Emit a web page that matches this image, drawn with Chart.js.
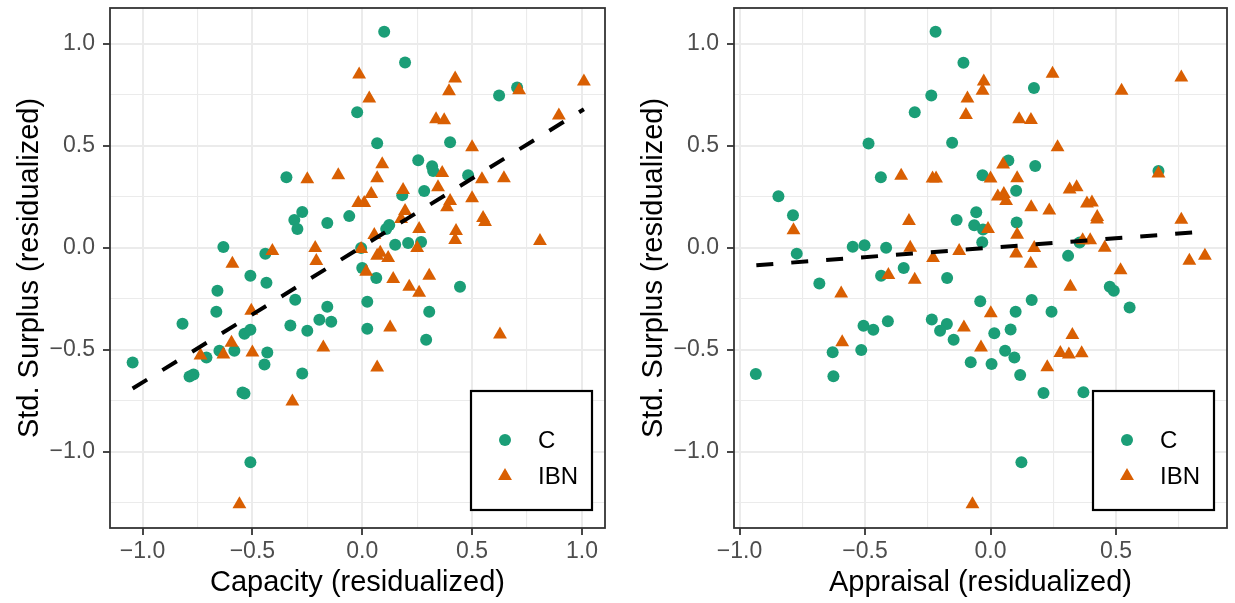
<!DOCTYPE html>
<html>
<head>
<meta charset="utf-8">
<script src="https://cdn.jsdelivr.net/npm/chart.js@4.4.1/dist/chart.umd.min.js"></script>
<style>
  html, body { margin: 0; padding: 0; background: #fff; }
  #wrap { position: relative; width: 1235px; height: 603px; }
  canvas { position: absolute; top: 0; }
</style>
</head>
<body>
<div id="wrap">
  <canvas id="capChart" width="617" height="603" style="left:0"></canvas>
  <canvas id="appChart" width="618" height="603" style="left:617px"></canvas>
</div>
<script>
// --- DATA ---
const groups = ['C', 'IBN'];
const groupColors = ['#1B9E77', '#D95F02'];

// left panel: Capacity
const capC_x = [0.100, 0.195, -0.023, 0.623, 0.705, 0.068, 0.400, 0.255, 0.318, 0.323, 0.482, 0.282, 0.182, -0.059, 0.123, 0.109, 0.150, 0.209, 0.268, 0.000, 0.064, 0.023, 0.023, 0.305, 0.291, 0.445, -0.345, -0.273, -0.309, -0.295, -0.159, -0.632, -0.441, -0.509, -0.436, -0.659, -0.305, -0.159, -0.664, -1.045, -0.818, -0.327, -0.250, -0.195, -0.141, -0.536, -0.509, -0.650, -0.582, -0.709, -0.786, -0.768, -0.432, -0.445, -0.273, -0.545, -0.536, -0.509, -0.005];
const capC_y = [1.061, 0.910, 0.665, 0.748, 0.787, 0.513, 0.518, 0.430, 0.401, 0.377, 0.357, 0.279, 0.259, 0.156, 0.112, 0.093, 0.015, 0.024, 0.029, -0.098, -0.147, -0.264, -0.396, -0.313, -0.450, -0.191, 0.347, 0.176, 0.137, 0.093, 0.122, 0.005, -0.029, -0.137, -0.171, -0.210, -0.254, -0.289, -0.313, -0.562, -0.372, -0.381, -0.406, -0.352, -0.362, -0.421, -0.401, -0.504, -0.504, -0.538, -0.631, -0.621, -0.513, -0.572, -0.616, -0.709, -0.714, -1.051, 0.000];
const capIBN_x = [-0.014, 0.423, 0.395, 0.714, 1.009, 0.032, 0.336, 0.373, 0.895, 0.500, -0.250, -0.109, 0.091, 0.068, 0.364, 0.545, 0.645, 0.186, 0.345, 0.041, -0.018, 0.009, 0.500, 0.400, 0.195, 0.386, 0.177, 0.550, 0.559, 0.259, 0.055, 0.427, 0.423, 0.809, 0.250, 0.082, 0.068, 0.118, -0.005, 0.018, 0.141, 0.214, 0.259, 0.305, 0.127, 0.068, 0.627, -0.214, -0.209, -0.409, -0.591, -0.505, -0.595, -0.736, -0.632, -0.500, -0.177, -0.318, -0.559];
const capIBN_y = [0.851, 0.831, 0.768, 0.773, 0.817, 0.733, 0.631, 0.626, 0.650, 0.494, 0.337, 0.357, 0.411, 0.342, 0.367, 0.337, 0.342, 0.284, 0.298, 0.264, 0.220, 0.220, 0.244, 0.230, 0.181, 0.200, 0.142, 0.147, 0.127, 0.093, 0.064, 0.083, 0.039, 0.034, 0.000, -0.024, -0.039, -0.049, -0.005, -0.117, -0.152, -0.191, -0.220, -0.137, -0.391, -0.587, -0.425, 0.000, -0.064, -0.015, -0.078, -0.308, -0.465, -0.528, -0.523, -0.513, -0.489, -0.753, -1.257];
const capFit_x = [-1.045, 1.009];
const capFit_y = [-0.690, 0.680];

// right panel: Appraisal
const appC_x = [-0.219, -0.108, -0.236, -0.302, -0.486, -0.153, -0.437, -0.032, -0.845, -0.787, -0.057, -0.135, -0.065, -0.030, -0.033, -0.772, -0.549, -0.502, -0.416, -0.346, 0.071, 0.178, 0.102, 0.104, 0.355, 0.309, 0.173, 0.669, -0.173, -0.041, 0.164, 0.100, 0.243, -0.682, -0.436, -0.506, -0.467, -0.409, -0.234, -0.174, -0.201, -0.147, -0.629, -0.515, -0.935, -0.626, -0.079, 0.004, 0.080, 0.015, 0.058, 0.095, 0.118, 0.211, 0.370, 0.475, 0.491, 0.554, 0.123];
const appC_y = [1.060, 0.908, 0.748, 0.665, 0.512, 0.516, 0.347, 0.357, 0.254, 0.160, 0.175, 0.137, 0.111, 0.090, 0.028, -0.028, 0.006, 0.013, 0.001, -0.098, 0.429, 0.402, 0.280, 0.125, 0.027, -0.039, 0.784, 0.377, -0.147, -0.262, -0.255, -0.313, -0.313, -0.175, -0.137, -0.382, -0.401, -0.360, -0.351, -0.373, -0.406, -0.450, -0.512, -0.501, -0.618, -0.629, -0.561, -0.570, -0.400, -0.419, -0.504, -0.538, -0.623, -0.712, -0.708, -0.191, -0.210, -0.292, -1.051];
const appIBN_x = [-0.027, -0.032, -0.092, -0.098, -0.356, -0.231, -0.217, -0.325, -0.785, -0.320, -0.229, -0.125, 0.247, 0.522, 0.760, 0.114, 0.161, 0.267, 0.050, 0.000, 0.106, 0.669, 0.315, 0.343, 0.029, 0.053, 0.062, 0.162, 0.234, 0.384, 0.404, 0.425, 0.424, 0.760, -0.010, 0.106, 0.102, 0.174, 0.160, 0.367, 0.397, 0.455, 0.792, 0.854, 0.518, -0.407, -0.302, -0.595, -0.591, -0.106, -0.038, -0.072, 0.001, 0.318, 0.326, 0.278, 0.312, 0.363, 0.226];
const appIBN_y = [0.817, 0.771, 0.733, 0.652, 0.354, 0.341, 0.341, 0.132, 0.087, 0.001, -0.049, -0.015, 0.854, 0.771, 0.836, 0.631, 0.627, 0.494, 0.409, 0.340, 0.342, 0.365, 0.286, 0.298, 0.252, 0.265, 0.230, 0.199, 0.183, 0.218, 0.223, 0.152, 0.140, 0.138, 0.093, 0.065, -0.027, 0.000, -0.078, 0.038, 0.038, 0.001, -0.063, -0.038, -0.110, -0.133, -0.156, -0.223, -0.463, -0.391, -0.488, -1.258, -0.321, -0.191, -0.427, -0.515, -0.523, -0.517, -0.585];
const appFit_x = [-0.933, 0.853];
const appFit_y = [-0.085, 0.080];

// ticks
const yMajor = [-1, -0.5, 0, 0.5, 1];
const yMinor = [-1.25, -0.75, -0.25, 0.25, 0.75];
const capXMajor = [-1, -0.5, 0, 0.5, 1];
const capXMinor = [-0.75, -0.25, 0.25, 0.75];
const appXMajor = [-1, -0.5, 0, 0.5];
const appXMinor = [-0.75, -0.25, 0.25, 0.75];

// --- HELPERS ---
const FONT = '"Liberation Sans", Arial, sans-serif';

const isMajor = v => Math.abs(v * 2 - Math.round(v * 2)) < 1e-6;
const fmt = v => (v < 0 ? '\u2212' : '') + Math.abs(v).toFixed(1);
const pts = (xs, ys) => xs.map((x, i) => ({ x, y: ys[i] }));

function axis(major, minor, pad, extra) {
    return Object.assign({
        afterBuildTicks: s => { s.ticks = major.concat(minor).sort((a, b) => a - b).map(v => ({ value: v })); },
        ticks: {
            autoSkip: false, maxRotation: 0, padding: pad, color: '#4D4D4D',
            font: { size: 23, family: FONT },
            callback: v => isMajor(v) ? fmt(v) : '',
        },
        grid: {
            color: '#EBEBEB',
            lineWidth: c => isMajor(c.tick.value) ? 2 : 1.1,
            tickLength: 7,
            tickWidth: 1.8,
            tickColor: c => isMajor(c.tick.value) ? '#333333' : 'rgba(0,0,0,0)',
        },
        border: { display: false },
    }, extra);
}

// panel border + legend drawn in the corner, like ggplot's inside legend
const panelDecor = {
    id: 'panelDecor',
    afterDraw(chart) {
        const { ctx, chartArea: a } = chart;
        ctx.save();
        ctx.strokeStyle = '#333333';
        ctx.lineWidth = 1.8;
        ctx.strokeRect(a.left, a.top, a.right - a.left, a.bottom - a.top);

        const w = 121, h = 119;
        const x0 = a.right - 13 - w, y0 = a.bottom - 18 - h;
        ctx.fillStyle = '#fff';
        ctx.fillRect(x0, y0, w, h);
        ctx.strokeStyle = '#000';
        ctx.lineWidth = 2.2;
        ctx.strokeRect(x0, y0, w, h);

        groups.forEach((g, i) => {
            const cx = x0 + 34, cy = y0 + 49 + i * 36;
            ctx.fillStyle = groupColors[i];
            ctx.beginPath();
            if (i === 0) {
                ctx.arc(cx, cy, 6, 0, Math.PI * 2);
            } else {
                const r = 8;
                ctx.moveTo(cx, cy - r);
                ctx.lineTo(cx + r * Math.sin(Math.PI * 2 / 3), cy - r * Math.cos(Math.PI * 2 / 3));
                ctx.lineTo(cx + r * Math.sin(Math.PI * 4 / 3), cy - r * Math.cos(Math.PI * 4 / 3));
                ctx.closePath();
            }
            ctx.fill();
            ctx.fillStyle = '#000';
            ctx.font = '24px ' + FONT;
            ctx.textBaseline = 'middle';
            ctx.textAlign = 'left';
            ctx.fillText(g, x0 + 67, cy + 1);
        });
        ctx.restore();
    }
};

function makeChart(id, cfg) {
    return new Chart(document.getElementById(id), {
        type: 'scatter',
        data: {
            datasets: [
                {
                    type: 'line', label: 'fit', data: pts(cfg.fitX, cfg.fitY), showLine: true,
                    borderColor: '#000', borderWidth: 4, borderDash: [17, 18], pointRadius: 0, order: 0,
                },
                {
                    label: groups[1], data: pts(cfg.ibnX, cfg.ibnY), pointStyle: 'triangle', pointRadius: 8,
                    backgroundColor: groupColors[1], borderColor: groupColors[1], borderWidth: 0, order: 1,
                },
                {
                    label: groups[0], data: pts(cfg.cX, cfg.cY), pointStyle: 'circle', pointRadius: 6,
                    backgroundColor: groupColors[0], borderColor: groupColors[0], borderWidth: 0, order: 2,
                },
            ],
        },
        options: {
            responsive: false,
            animation: false,
            events: [],
            layout: { padding: { top: 7, right: cfg.padRight, left: 0, bottom: 0 } },
            plugins: { legend: { display: false }, tooltip: { enabled: false } },
            scales: {
                x: axis(cfg.xMajor, cfg.xMinor, 3, {
                    type: 'linear', min: cfg.xMin, max: cfg.xMax,
                    afterFit: s => { s.height = 75; s.paddingLeft = 0; s.paddingRight = 0; },
                    title: { display: true, text: cfg.xTitle, color: '#000', font: { size: 29, family: FONT }, padding: { top: 0, bottom: 3 } },
                }),
                y: axis(yMajor, yMinor, 8, {
                    min: -1.374, max: 1.177,
                    afterFit: s => { s.width = cfg.yWidth; s.paddingTop = 0; s.paddingBottom = 0; },
                    title: { display: true, text: 'Std. Surplus (residualized)', color: '#000', font: { size: 29, family: FONT }, padding: { top: cfg.yTitlePad, bottom: 0 } },
                }),
            },
        },
        plugins: [panelDecor],
    });
}

// --- INIT ---
makeChart('capChart', {
    cX: capC_x, cY: capC_y, ibnX: capIBN_x, ibnY: capIBN_y, fitX: capFit_x, fitY: capFit_y,
    xMajor: capXMajor, xMinor: capXMinor, xMin: -1.148, xMax: 1.105,
    xTitle: 'Capacity (residualized)', yWidth: 110, padRight: 12, yTitlePad: 13,
});
makeChart('appChart', {
    cX: appC_x, cY: appC_y, ibnX: appIBN_x, ibnY: appIBN_y, fitX: appFit_x, fitY: appFit_y,
    xMajor: appXMajor, xMinor: appXMinor, xMin: -1.022, xMax: 0.942,
    xTitle: 'Appraisal (residualized)', yWidth: 117, padRight: 5, yTitlePad: 20,
});
</script>
</body>
</html>
